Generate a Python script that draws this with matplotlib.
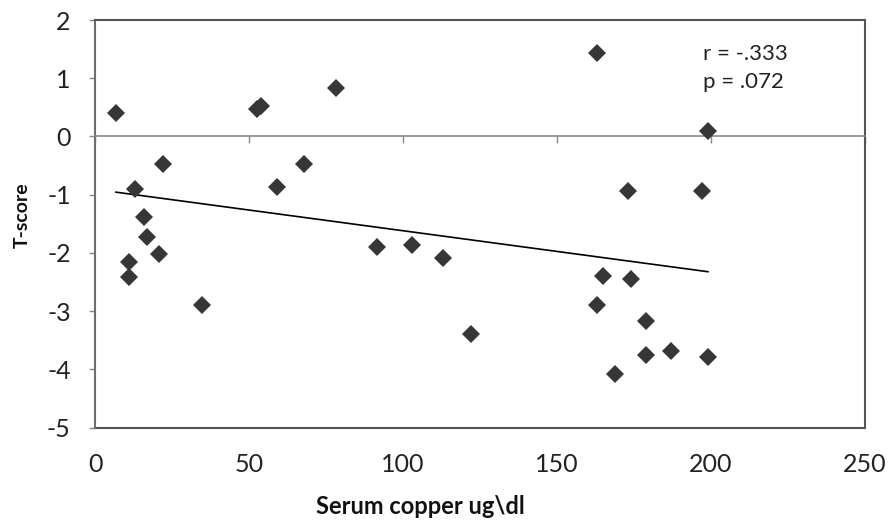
import numpy as np
import matplotlib
matplotlib.use("Agg")
import matplotlib.pyplot as plt

# serum copper (ug/dl) vs T-score
copper = [6.8, 52.5, 54, 78.1, 22, 13, 59.1, 67.9, 16, 16.8,
          20.9, 11, 11, 34.8, 91.7, 103, 113, 122, 173, 164.8,
          173.9, 163, 168.9, 163.1, 198.9, 197.1, 178.9, 178.9, 186.9, 199]
tscore = [0.41, 0.48, 0.53, 0.83, -0.47, -0.91, -0.87, -0.47, -1.38, -1.72,
          -2.02, -2.15, -2.41, -2.90, -1.89, -1.87, -2.09, -3.39, -0.93, -2.39,
          -2.45, -2.89, -4.08, 1.43, 0.09, -0.93, -3.17, -3.75, -3.69, -3.78]
xticks = [0, 50, 100, 150, 200, 250]
yticks = [2, 1, 0, -1, -2, -3, -4, -5]
stats_text = "r = -.333\np = .072"

plt.rcParams['font.family'] = ['Lato', 'DejaVu Sans']
plt.rcParams['axes.unicode_minus'] = False

fig = plt.figure(figsize=(8.9, 5.25), dpi=100)
ax = fig.add_axes([95 / 890, 1 - 427.7 / 525, 770 / 890, 407.7 / 525])

x = np.array(copper)
y = np.array(tscore)
ax.plot(x, y, 'D', color='#363636', markersize=9.5, markeredgewidth=0, zorder=3)

# linear trend line over the data range
slope, intercept = np.polyfit(x, y, 1)
xl = np.array([x.min(), x.max()])
ax.plot(xl, slope * xl + intercept, color='black', lw=1.2, zorder=2)

ax.set_xlim(0, 250)
ax.set_ylim(-5, 2)

frame = '#555555'
ax.spines['top'].set_color(frame)
ax.spines['right'].set_color(frame)
ax.spines['left'].set_color('#6e6e6e')
for s in ['top', 'right', 'left']:
    ax.spines[s].set_linewidth(1.5)

# horizontal axis crosses at zero
ax.spines['bottom'].set_position(('data', 0))
ax.spines['bottom'].set_color('#888888')
ax.spines['bottom'].set_linewidth(1.2)
ax.set_xticks(xticks)
ax.tick_params(axis='x', direction='out', length=5, width=1, color='#888888',
               labelbottom=False)

ax.set_yticks(yticks)
ax.tick_params(axis='y', direction='out', length=4.5, width=1, color='#888888',
               labelsize=18, labelcolor='#222222', pad=13)

# tick labels along the bottom frame
sec = ax.secondary_xaxis('bottom')
sec.set_xticks(xticks)
sec.tick_params(length=0, labelsize=18, labelcolor='#222222', pad=18)
sec.spines['bottom'].set_color(frame)
sec.spines['bottom'].set_linewidth(1.5)

ax.text(0.79, 0.94, stats_text, transform=ax.transAxes, ha='left', va='top',
        fontsize=16, color='#222222', linespacing=1.45)

fig.text(420 / 890, 1 - 507 / 525, 'Serum copper ug\\dl', ha='center', va='center',
         fontsize=17, fontweight='bold', color='#111111')
fig.text(22 / 890, 1 - 215 / 525, 'T-score', ha='center', va='center',
         rotation=90, fontsize=14, fontweight='bold', color='#111111')

fig.savefig('out.png', dpi=100)
